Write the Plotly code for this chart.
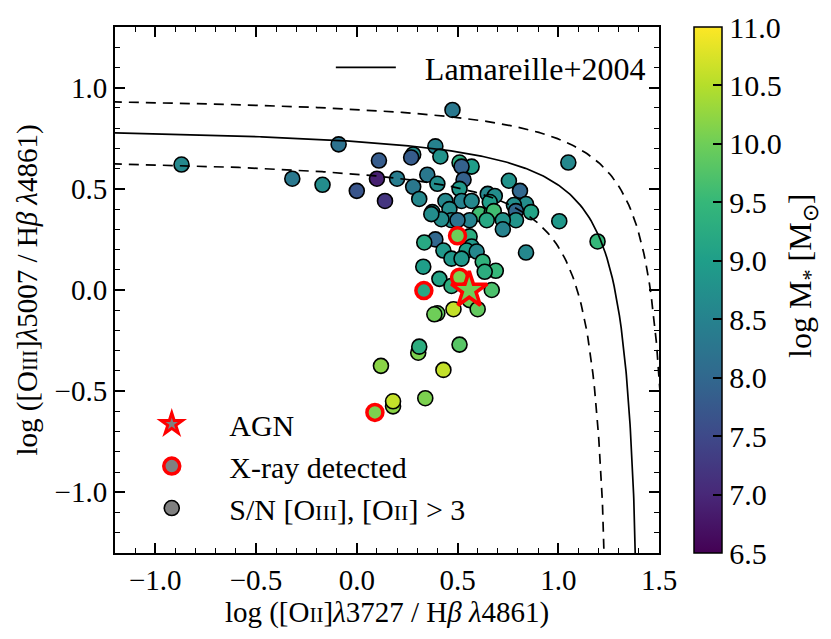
import numpy as np
import plotly.graph_objects as go

# ---------------- data ----------------
# galaxies with S/N [OIII], [OII] > 3 : log([OII]/Hb), log([OIII]/Hb), log M*
sn_x = [-0.87, -0.09, -0.32, -0.17, 0.11, 0.10, 0.00, 0.14, 0.20, 0.475,
        0.28, 0.27, 0.39, 0.415, 0.35, 0.40, 0.28, 0.31, 0.51, 0.57,
        0.52, 0.53, 0.51, 0.65, 0.44, 0.52, 0.57, 0.375, 0.46, 0.61,
        0.67, 1.05, 0.755, 0.81, 0.685, 0.66, 0.84, 0.78, 0.79, 0.68,
        0.865, 0.84, 1.005, 1.195, 0.79, 0.725, 0.725, 0.645, 0.56, 0.47,
        0.42, 0.50, 0.37, 0.56, 0.39, 0.335, 0.57, 0.43, 0.545, 0.595,
        0.47, 0.52, 0.625, 0.33, 0.69, 0.635, 0.41, 0.47, 0.67, 0.56,
        0.60, 0.48, 0.40, 0.385, 0.12, 0.305, 0.31, 0.51, 0.43, 0.34,
        0.18, 0.18]
sn_y = [0.62, 0.72, 0.55, 0.52, 0.64, 0.55, 0.49, 0.44, 0.55, 0.89,
        0.67, 0.655, 0.71, 0.66, 0.57, 0.525, 0.51, 0.45, 0.63, 0.61,
        0.61, 0.545, 0.50, 0.475, 0.44, 0.44, 0.44, 0.385, 0.40, 0.375,
        0.385, 0.63, 0.54, 0.49, 0.465, 0.435, 0.425, 0.42, 0.39, 0.39,
        0.385, 0.185, 0.34, 0.24, 0.345, 0.345, 0.30, 0.345, 0.345, 0.345,
        0.35, 0.345, 0.375, 0.265, 0.25, 0.235, 0.215, 0.195, 0.195, 0.19,
        0.155, 0.155, 0.14, 0.115, 0.095, 0.09, 0.055, 0.02, 0.00, -0.05,
        -0.095, -0.095, -0.115, -0.12, -0.375, -0.31, -0.28, -0.27, -0.395, -0.535,
        -0.575, -0.55]
sn_mass = [8.6, 8.2, 8.3, 8.7, 7.8, 6.9, 7.7, 7.2, 8.4, 8.3,
           8.7, 7.8, 8.5, 8.8, 8.3, 8.7, 8.3, 8.6, 9.3, 9.0,
           7.9, 7.9, 8.9, 8.6, 8.6, 8.5, 8.6, 8.8, 8.7, 9.6,
           9.2, 8.6, 8.8, 8.0, 8.7, 9.0, 8.7, 8.7, 8.0, 9.6,
           9.1, 8.6, 8.9, 9.5, 8.8, 8.8, 8.5, 9.2, 8.5, 8.7,
           8.7, 8.2, 8.7, 9.3, 8.0, 9.2, 8.9, 8.9, 9.0, 8.6,
           8.9, 8.9, 9.4, 9.0, 9.5, 9.3, 9.1, 9.3, 9.7, 10.0,
           9.9, 10.6, 9.9, 10.0, 10.2, 10.1, 9.3, 9.8, 10.6, 10.1,
           10.2, 10.6]

# X-ray detected galaxies
xray_x = [0.50, 0.51, 0.333, 0.09]
xray_y = [0.268, 0.063, -0.003, -0.605]
xray_mass = [10.0, 10.1, 9.2, 10.1]

# AGN
agn_x = [0.558]
agn_y = [0.0]
agn_mass = [10.0]

# Lamareille (2004) demarcation: y = A / (x - B) + C, with +-0.15 dex margins
L04_A, L04_B, L04_C = 0.14, 1.45, 0.83
L04_MARGIN = 0.15

x_ticks = [-1.0, -0.5, 0.0, 0.5, 1.0, 1.5]
y_ticks = [-1.0, -0.5, 0.0, 0.5, 1.0]
cbar_ticks = [6.5, 7.0, 7.5, 8.0, 8.5, 9.0, 9.5, 10.0, 10.5, 11.0]

# ---------------- figure ----------------
FONT = "Liberation Serif"
CMIN, CMAX = 6.5, 11.0
NB = "\u00a0"


def l04_curve(shift):
    b = L04_B + shift
    xs = np.concatenate([np.linspace(-1.3, b - 0.12, 300),
                         b - np.geomspace(0.12, 0.0005, 400)])
    ys = L04_A / (xs - b) + L04_C + shift
    return xs, ys


fig = go.Figure()

fig.add_trace(go.Scatter(
    x=sn_x, y=sn_y, mode="markers", showlegend=False,
    marker=dict(size=15, color=sn_mass, colorscale="Viridis", cmin=CMIN, cmax=CMAX,
                line=dict(color="black", width=1.6),
                colorbar=dict(
                    x=1.064, xanchor="left", xpad=0, y=0.5, yanchor="middle", ypad=0,
                    len=1.0, lenmode="fraction", thickness=28,
                    outlinewidth=1.5, outlinecolor="black",
                    tickvals=cbar_ticks, ticktext=[f"{v:.1f}" for v in cbar_ticks],
                    ticks="inside", ticklen=9, tickwidth=1.5, tickcolor="black",
                    tickfont=dict(family=FONT, size=30, color="black"),
                )),
))

fig.add_trace(go.Scatter(
    x=xray_x, y=xray_y, mode="markers", showlegend=False,
    marker=dict(size=16, color=xray_mass, colorscale="Viridis", cmin=CMIN, cmax=CMAX,
                line=dict(color="red", width=3.5)),
))

fig.add_trace(go.Scatter(
    x=agn_x, y=agn_y, mode="markers", showlegend=False,
    marker=dict(size=27, symbol="star", color=agn_mass, colorscale="Viridis",
                cmin=CMIN, cmax=CMAX, line=dict(color="red", width=3.5)),
))

# demarcation lines (drawn over the points)
xs, ys = l04_curve(0.0)
fig.add_trace(go.Scatter(x=xs, y=ys, mode="lines", name=NB * 3 + "Lamareille+2004",
                         line=dict(color="black", width=1.7), legend="legend"))
for s in (+L04_MARGIN, -L04_MARGIN):
    xs, ys = l04_curve(s)
    fig.add_trace(go.Scatter(x=xs, y=ys, mode="lines", showlegend=False,
                             line=dict(color="black", width=1.7, dash="10px,7px")))

# legend-only entries
fig.add_trace(go.Scatter(x=[None], y=[None], mode="markers", name=NB * 3 + "AGN",
                         legend="legend2",
                         marker=dict(size=27, symbol="star", color="#808080",
                                     line=dict(color="red", width=3))))
fig.add_trace(go.Scatter(x=[None], y=[None], mode="markers",
                         name=NB * 3 + "X-ray detected", legend="legend2",
                         marker=dict(size=16, color="#808080", line=dict(color="red", width=3.5))))
fig.add_trace(go.Scatter(x=[None], y=[None], mode="markers",
                         name=NB * 3 + "S/N [O<span style='font-size:22px'>III</span>], "
                              "[O<span style='font-size:22px'>II</span>] &gt; 3",
                         legend="legend2",
                         marker=dict(size=15, color="#808080", line=dict(color="black", width=1.6))))

axis_common = dict(
    showline=True, linewidth=2, linecolor="black", mirror="ticks",
    ticks="inside", ticklen=10, tickwidth=1.5, tickcolor="black",
    tickformat=".1f", showgrid=False, zeroline=False,
    tickfont=dict(family=FONT, size=29, color="black"),
    minor=dict(dtick=0.1, ticks="inside", ticklen=5, tickwidth=1.2, tickcolor="black",
               showgrid=False),
)

fig.update_layout(
    width=831, height=639,
    margin=dict(l=115, r=172, t=27, b=86),
    paper_bgcolor="white", plot_bgcolor="white",
    font=dict(family=FONT, size=28, color="black"),
    xaxis=dict(range=[-1.2, 1.5], tickvals=x_ticks,
               title=dict(text="log ([O<span style='font-size:21px'>II</span>]<i>λ</i>3727 / "
                               "H<i>β</i> <i>λ</i>4861)",
                          font=dict(family=FONT, size=29), standoff=0),
               **axis_common),
    yaxis=dict(range=[-1.3, 1.3], tickvals=y_ticks,
               title=dict(text="log ([O<span style='font-size:21px'>III</span>]<i>λ</i>5007 / "
                               "H<i>β</i> <i>λ</i>4861)",
                          font=dict(family=FONT, size=29), standoff=8),
               **axis_common),
    legend=dict(x=0.985, y=0.975, xanchor="right", yanchor="top",
                bgcolor="rgba(0,0,0,0)", font=dict(family=FONT, size=32),
                itemwidth=60),
    legend2=dict(x=0.04, y=0.036, xanchor="left", yanchor="bottom",
                 bgcolor="rgba(0,0,0,0)", font=dict(family=FONT, size=30),
                 itemwidth=60, tracegroupgap=0),
    annotations=[dict(text="log M<sub>*</sub> [M<sub>⊙</sub>]", textangle=-90,
                      xref="paper", yref="paper", x=1.265, y=0.527,
                      xanchor="center", yanchor="middle", showarrow=False,
                      font=dict(family=FONT, size=32, color="black"))],
)

fig.write_html("out.html", config={"displayModeBar": False},
               post_script="document.body.style.margin='0';")
